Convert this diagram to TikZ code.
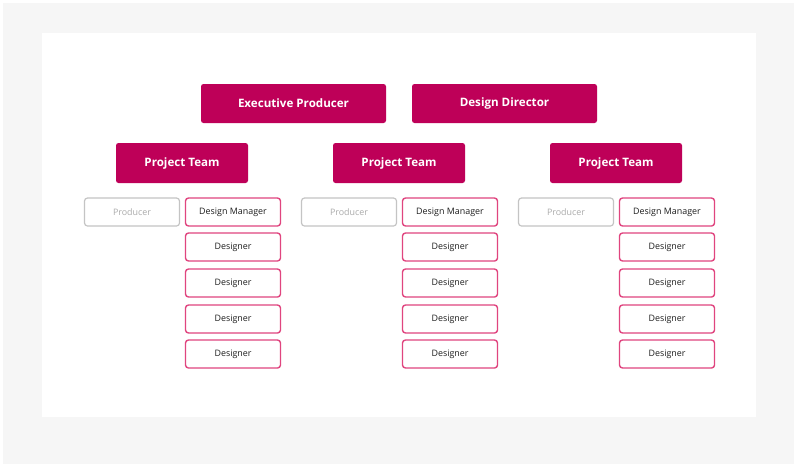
\documentclass[tikz,border=0pt]{standalone}
\usepackage{fontspec}
\setmainfont{Open Sans}
\definecolor{mag}{HTML}{BE0058}
\definecolor{pinkb}{HTML}{E0457F}
\definecolor{grayb}{HTML}{C4C4C4}
\definecolor{grayt}{HTML}{ABABAB}
\definecolor{bgg}{HTML}{F6F6F6}
\definecolor{txt}{HTML}{1E1E1E}
\tikzset{
  headbox/.style={fill=mag, draw=none, rounded corners=2.5pt, text=white,
    font=\fontsize{11.6}{13}\selectfont\bfseries, inner sep=0pt},
  rolebox/.style={fill=white, draw=pinkb, line width=1.4pt, rounded corners=3pt,
    text=txt, font=\fontsize{8.9}{10}\selectfont, minimum width=95pt, minimum height=28pt, inner sep=0pt},
  prodbox/.style={fill=white, draw=grayb, line width=1.2pt, rounded corners=3pt,
    text=grayt, font=\fontsize{8.9}{10}\selectfont, minimum width=95pt, minimum height=28pt, inner sep=0pt}
}
\begin{document}
\begin{tikzpicture}[x=1pt,y=-1pt]
\useasboundingbox (0,0) rectangle (794,464);
\fill[white] (0,0) rectangle (794,464);
\fill[bgg] (3,3) rectangle (794,464);
\fill[white] (42,33) rectangle (756,417);
\node[headbox, minimum width=185pt, minimum height=39pt] (ep) at (293.5,103.5) {Executive Producer};
\node[headbox, minimum width=185pt, minimum height=39pt] (dd) at (504.5,103.5) {Design Director};
\foreach \i/\dx in {1/0,2/217,3/434}{
  \node[headbox, minimum width=132pt, minimum height=40pt] (pt\i) at (182+\dx,163) {Project Team};
  \node[prodbox] (pr\i) at (132+\dx,212) {Producer};
  \node[rolebox] (dm\i) at (233+\dx,212) {Design Manager};
  \node[rolebox] (da\i) at (233+\dx,247) {Designer};
  \node[rolebox] (db\i) at (233+\dx,283) {Designer};
  \node[rolebox] (dc\i) at (233+\dx,319) {Designer};
  \node[rolebox] (dd\i) at (233+\dx,354) {Designer};
}
\end{tikzpicture}
\end{document}
